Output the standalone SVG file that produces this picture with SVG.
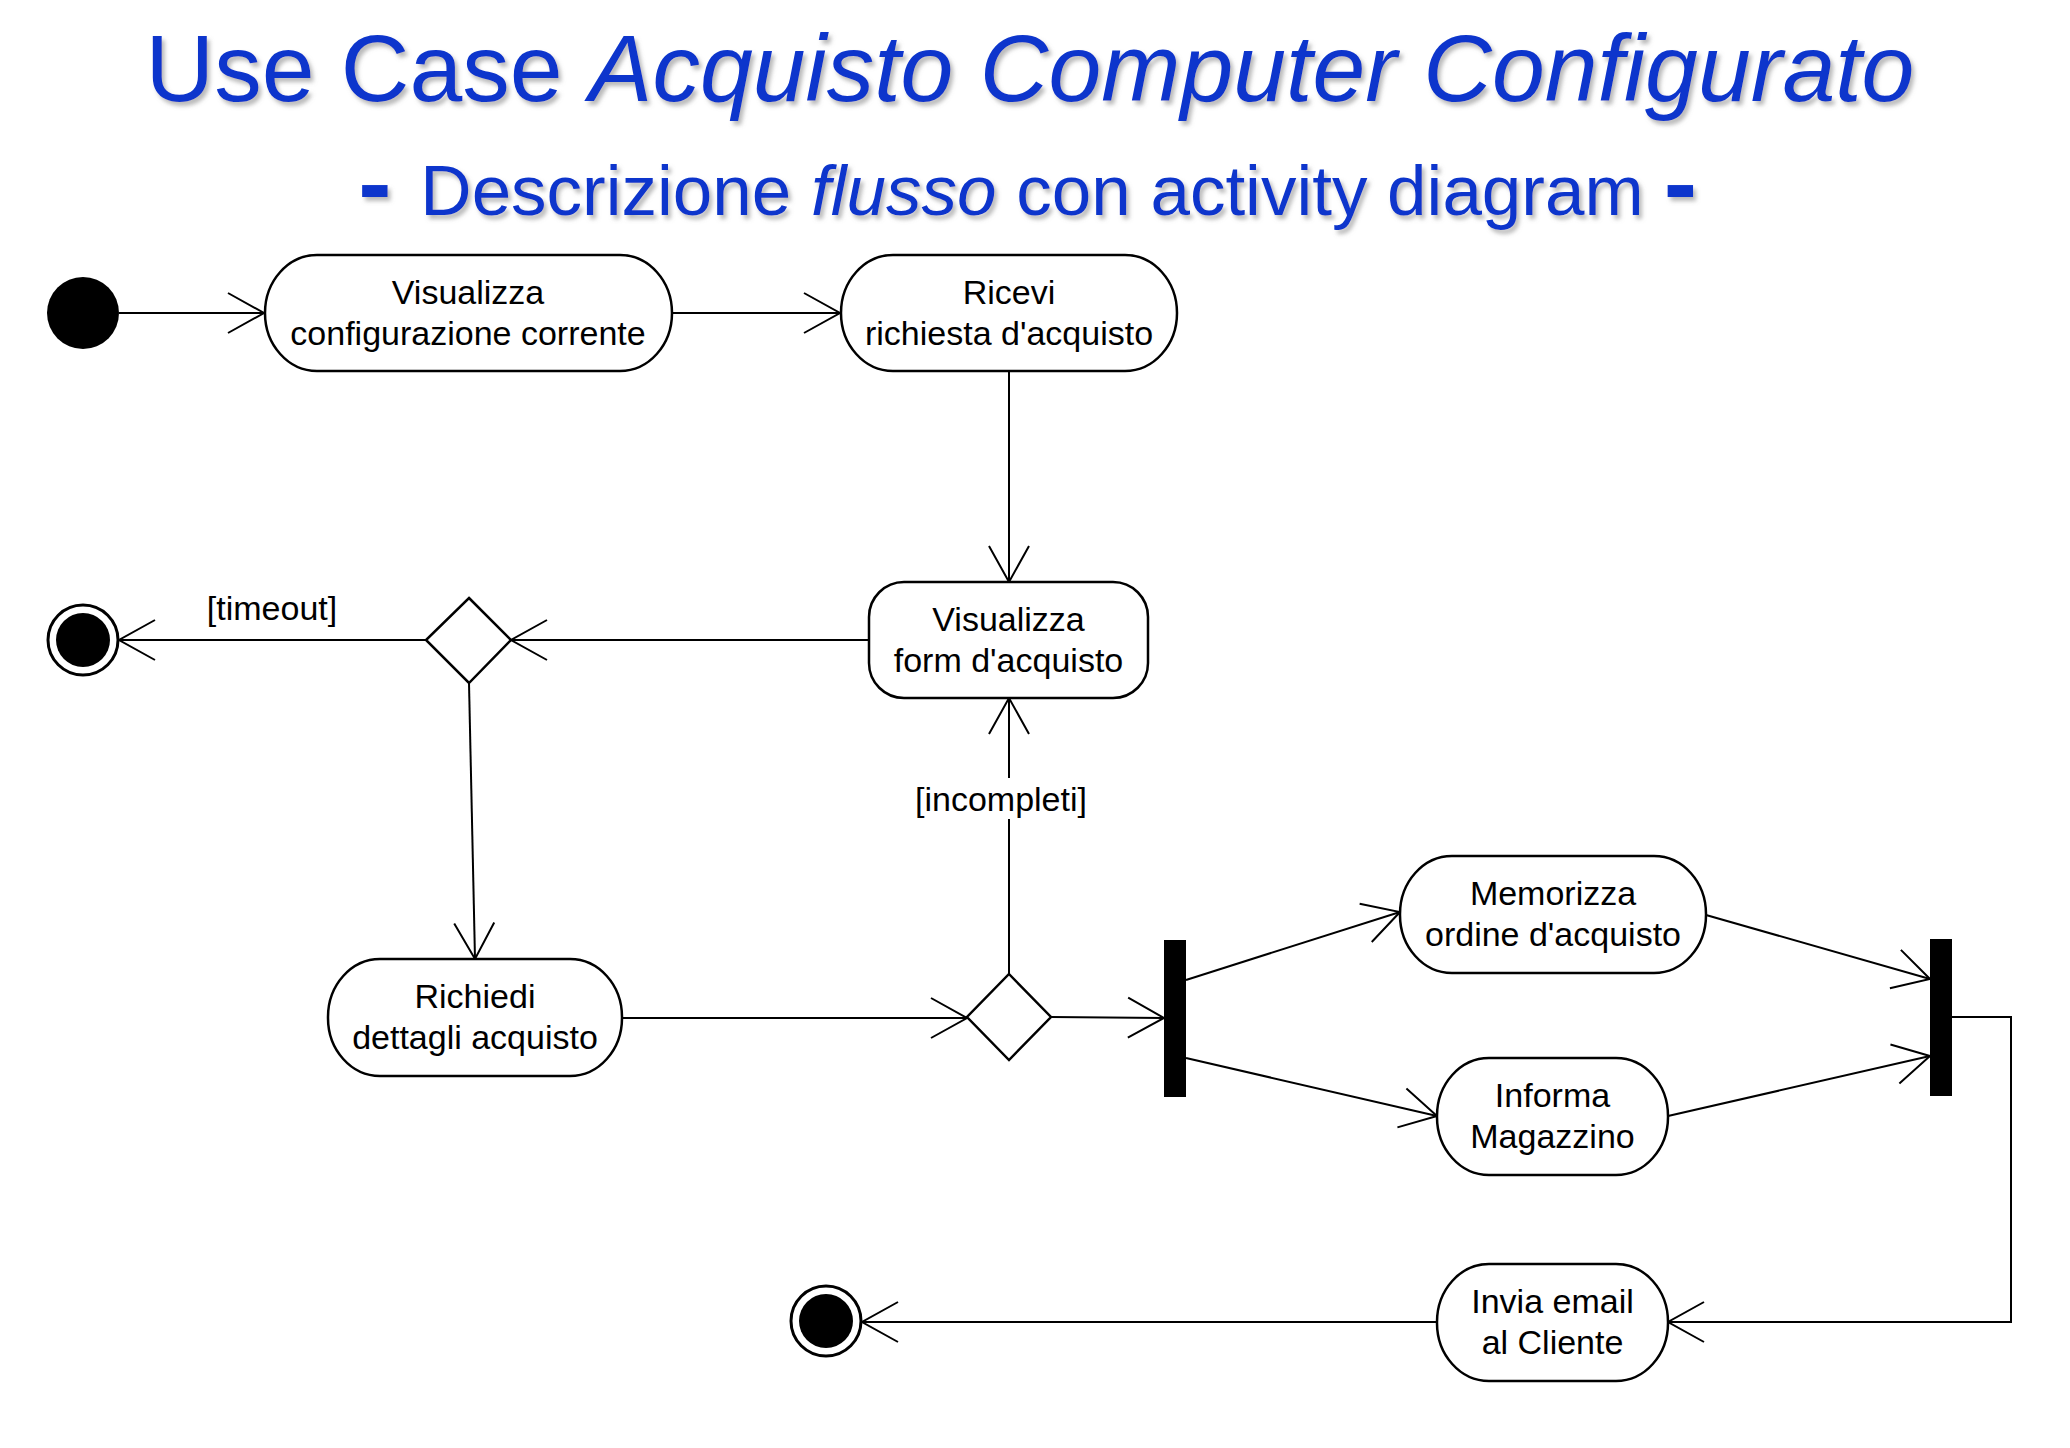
<svg xmlns="http://www.w3.org/2000/svg" width="2070" height="1448" viewBox="0 0 2070 1448">
  <style>
    .title { font-family: "Liberation Sans", Arial, sans-serif; fill: #0a36cc; }
    .node { fill: #ffffff; stroke: #000000; stroke-width: 2.5; }
    .lbl { font-family: "Liberation Sans", Arial, sans-serif; font-size: 34px; fill: #000000; text-anchor: middle; }
    .edge { fill: none; stroke: #000000; stroke-width: 2; marker-end: url(#arr); }
    .bar { fill: #000000; }
  </style>
  <defs>
    <filter id="shadow" x="-5%" y="-20%" width="110%" height="150%">
      <feDropShadow dx="3" dy="4" stdDeviation="2" flood-color="#808080" flood-opacity="0.55"/>
    </filter>
    <marker id="arr" markerUnits="userSpaceOnUse" markerWidth="40" markerHeight="44" refX="38" refY="22" orient="auto" viewBox="0 0 40 44" overflow="visible">
      <path d="M2,2 L38,22 L2,42" fill="none" stroke="#000000" stroke-width="2"/>
    </marker>
  </defs>
  <rect x="0" y="0" width="2070" height="1448" fill="#ffffff"/>

  <g id="title" filter="url(#shadow)">
    <text class="title" x="1030" y="101" font-size="95" text-anchor="middle">Use Case <tspan font-style="italic">Acquisto Computer Configurato</tspan></text>
    <text class="title" x="375" y="217" font-size="100" font-weight="bold" text-anchor="middle">-</text>
    <text class="title" x="1032" y="215" font-size="71" text-anchor="middle">Descrizione <tspan font-style="italic">flusso</tspan> con activity diagram</text>
    <text class="title" x="1680.5" y="217" font-size="100" font-weight="bold" text-anchor="middle">-</text>
  </g>

  <g id="connectors">
    <line class="edge" x1="119" y1="313" x2="264" y2="313"/>
    <line class="edge" x1="672" y1="313" x2="840" y2="313"/>
    <line class="edge" x1="1009" y1="371" x2="1009" y2="582"/>
    <line class="edge" x1="868" y1="640" x2="511" y2="640"/>
    <line class="edge" x1="426" y1="640" x2="119" y2="640"/>
    <line class="edge" x1="469" y1="683" x2="475" y2="959"/>
    <line class="edge" x1="622" y1="1018" x2="967" y2="1018"/>
    <line class="edge" x1="1009" y1="974" x2="1009" y2="698"/>
    <line class="edge" x1="1051" y1="1017" x2="1164" y2="1018"/>
    <line class="edge" x1="1186" y1="980" x2="1400" y2="912"/>
    <line class="edge" x1="1186" y1="1058" x2="1437" y2="1116"/>
    <line class="edge" x1="1706" y1="915" x2="1930" y2="979"/>
    <line class="edge" x1="1668" y1="1116" x2="1930" y2="1056"/>
    <polyline class="edge" points="1952,1017 2011,1017 2011,1322 1668,1322"/>
    <line class="edge" x1="1437" y1="1322" x2="862" y2="1322"/>
    <text class="lbl" x="272" y="620">[timeout]</text>
    <rect x="912" y="778" width="178" height="41" fill="#ffffff"/>
    <text class="lbl" x="1001" y="811">[incompleti]</text>
  </g>

  <g id="start">
    <circle cx="83" cy="313" r="36" fill="#000000"/>
  </g>

  <g id="visualizza-configurazione">
    <rect class="node" x="265" y="255" width="407" height="116" rx="52" ry="58"/>
    <text class="lbl" x="468" y="304">Visualizza</text>
    <text class="lbl" x="468" y="345">configurazione corrente</text>
  </g>

  <g id="ricevi-richiesta">
    <rect class="node" x="841" y="255" width="336" height="116" rx="52" ry="58"/>
    <text class="lbl" x="1009" y="304">Ricevi</text>
    <text class="lbl" x="1009" y="345">richiesta d'acquisto</text>
  </g>

  <g id="visualizza-form">
    <rect class="node" x="869" y="582" width="279" height="116" rx="35" ry="35"/>
    <text class="lbl" x="1008.5" y="631">Visualizza</text>
    <text class="lbl" x="1008.5" y="672">form d'acquisto</text>
  </g>

  <g id="decision-timeout">
    <polygon class="node" points="469,598 511,640 469,683 426,640"/>
  </g>

  <g id="end-timeout">
    <circle cx="83" cy="640" r="35" fill="#ffffff" stroke="#000000" stroke-width="3"/>
    <circle cx="83" cy="640" r="27" fill="#000000"/>
  </g>

  <g id="richiedi-dettagli">
    <rect class="node" x="328" y="959" width="294" height="117" rx="52" ry="58"/>
    <text class="lbl" x="475" y="1008">Richiedi</text>
    <text class="lbl" x="475" y="1049">dettagli acquisto</text>
  </g>

  <g id="decision-dettagli">
    <polygon class="node" points="1009,974 1051,1017 1009,1060 967,1017"/>
  </g>

  <g id="fork">
    <rect class="bar" x="1164" y="940" width="22" height="157"/>
  </g>

  <g id="memorizza-ordine">
    <rect class="node" x="1400" y="856" width="306" height="117" rx="52" ry="58"/>
    <text class="lbl" x="1553" y="905">Memorizza</text>
    <text class="lbl" x="1553" y="946">ordine d'acquisto</text>
  </g>

  <g id="informa-magazzino">
    <rect class="node" x="1437" y="1058" width="231" height="117" rx="52" ry="58"/>
    <text class="lbl" x="1552.5" y="1107">Informa</text>
    <text class="lbl" x="1552.5" y="1148">Magazzino</text>
  </g>

  <g id="join">
    <rect class="bar" x="1930" y="939" width="22" height="157"/>
  </g>

  <g id="invia-email">
    <rect class="node" x="1437" y="1264" width="231" height="117" rx="52" ry="58"/>
    <text class="lbl" x="1552.5" y="1313">Invia email</text>
    <text class="lbl" x="1552.5" y="1354">al Cliente</text>
  </g>

  <g id="end">
    <circle cx="826" cy="1321" r="35" fill="#ffffff" stroke="#000000" stroke-width="3"/>
    <circle cx="826" cy="1321" r="27" fill="#000000"/>
  </g>
</svg>
